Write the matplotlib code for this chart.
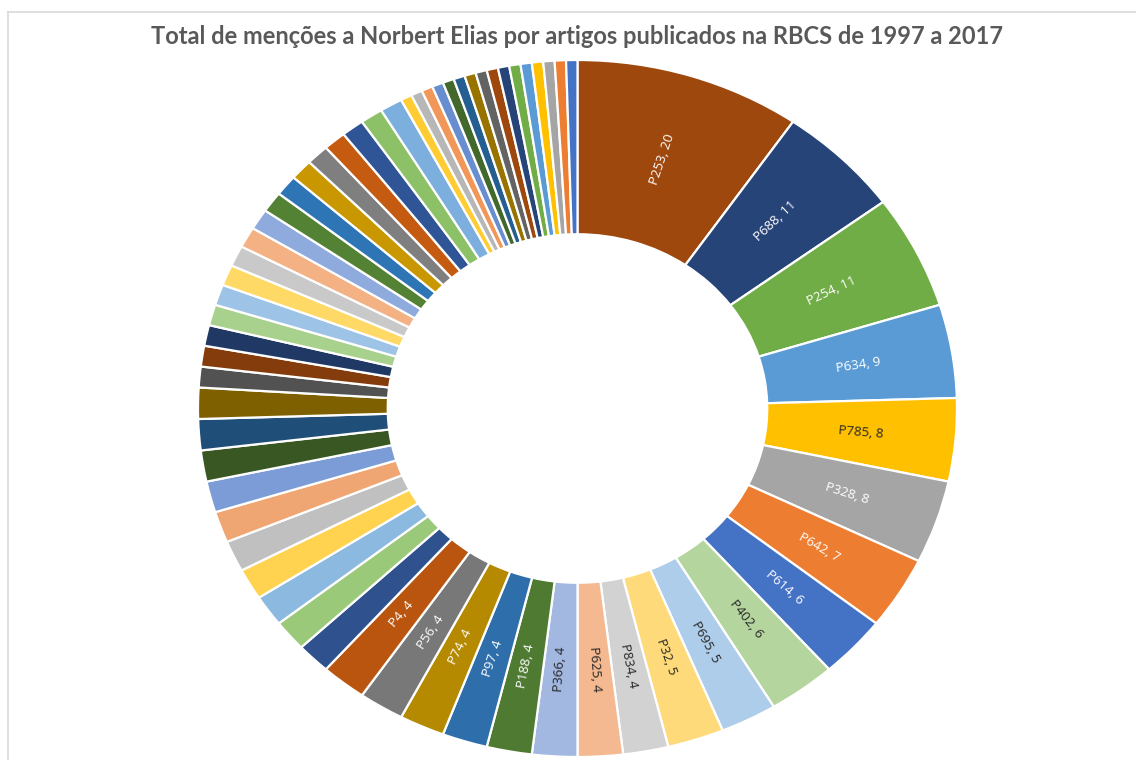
import numpy as np
import matplotlib
matplotlib.use("Agg")
import matplotlib.pyplot as plt
from matplotlib.colors import to_rgb

# data (clockwise from 12 o'clock); only the first slices carry labels
labels = ["P253", "P688", "P254", "P634", "P785", "P328", "P642", "P614",
          "P402", "P695", "P32", "P834", "P625", "P366", "P188", "P97",
          "P74", "P56", "P4"]
labeled_values = [20, 11, 11, 9, 8, 8, 7, 6, 6, 5, 5, 4, 4, 4, 4, 4, 4, 4, 4]
other_values = [3] * 10 + [2] * 17 + [1] * 16
values = labeled_values + other_values

colors = [
    "#9E480E", "#264478", "#70AD47", "#5B9BD5", "#FFC000", "#A5A5A5",
    "#ED7D31", "#4472C4", "#B4D69E", "#ADCDEA", "#FFDA7A", "#D2D2D2",
    "#F4B990", "#A2B8E1", "#4E7A32", "#2E6FAB", "#B58A00", "#787878",
    "#BA5510",
    "#2F528F", "#9BC97A", "#8CB9E0", "#FFD24F", "#C0C0C0", "#F0A672",
    "#7B9CD6", "#385723", "#1F4E79", "#7F6000", "#525252", "#843C0C",
    "#203864", "#A9D18E", "#9DC3E6", "#FFD966", "#C9C9C9", "#F4B183",
    "#8FAADC", "#548235", "#2E75B6", "#C99700", "#7F7F7F", "#C55A11",
    "#2F5597", "#8CC168", "#7CAFDD", "#FFCD33", "#B7B7B7", "#F1975A",
    "#698ED0", "#43682B", "#255E91", "#997300", "#636363", "#9E480E",
    "#264478", "#70AD47", "#5B9BD5", "#FFC000", "#A5A5A5", "#ED7D31",
    "#4472C4",
]

title = "Total de menções a Norbert Elias por artigos publicados na RBCS de 1997 a 2017"

W, H = 1136, 760
fig = plt.figure(figsize=(W / 100, H / 100), dpi=100)

# light frame lines like the screenshot
fig.add_artist(plt.Line2D([7.5 / W, 1], [1 - 11.5 / H, 1 - 11.5 / H], color="#D9D9D9", lw=1.2))
fig.add_artist(plt.Line2D([7.5 / W, 7.5 / W], [0, 1 - 11.5 / H], color="#D9D9D9", lw=1.2))

# stretched doughnut: center (577.5, 408.5) px, rx 379.5, ry 348.5
cx, cy, rx, ry = 577.5, 408.5, 379.5, 348.5
ax = fig.add_axes([(cx - rx) / W, (H - cy - ry) / H, 2 * rx / W, 2 * ry / H])
wedges, _ = ax.pie(values, colors=colors, startangle=90, counterclock=False,
                   radius=1.0,
                   wedgeprops=dict(width=0.5, edgecolor="white", linewidth=1.6))
ax.set_aspect("auto")
ax.set_xlim(-1, 1)
ax.set_ylim(-1, 1)
ax.axis("off")

total = float(sum(values))
cum = 0.0
for i, v in enumerate(values):
    if i < len(labels):
        mid = 90 - 360 * (cum + v / 2) / total
        t = np.deg2rad(mid)
        x, y = 0.75 * np.cos(t), 0.75 * np.sin(t)
        rot = np.degrees(np.arctan2(np.sin(t) * ry, np.cos(t) * rx))
        if rot > 90:
            rot -= 180
        elif rot < -90:
            rot += 180
        r, g, b = to_rgb(colors[i])
        lum = 0.299 * r + 0.587 * g + 0.114 * b
        tc = "white" if lum < 0.68 else "#262626"
        ax.text(x, y, "%s, %d" % (labels[i], v), ha="center", va="center",
                rotation=rot, rotation_mode="anchor", fontsize=9.5,
                family=["Open Sans", "DejaVu Sans"], color=tc)
    cum += v

fig.text(577 / W, 1 - 37 / H, title, ha="center", va="center", fontsize=17,
         fontweight="bold", color="#595959", family=["Lato", "DejaVu Sans"])

fig.savefig("out.png", dpi=100, facecolor="white")
